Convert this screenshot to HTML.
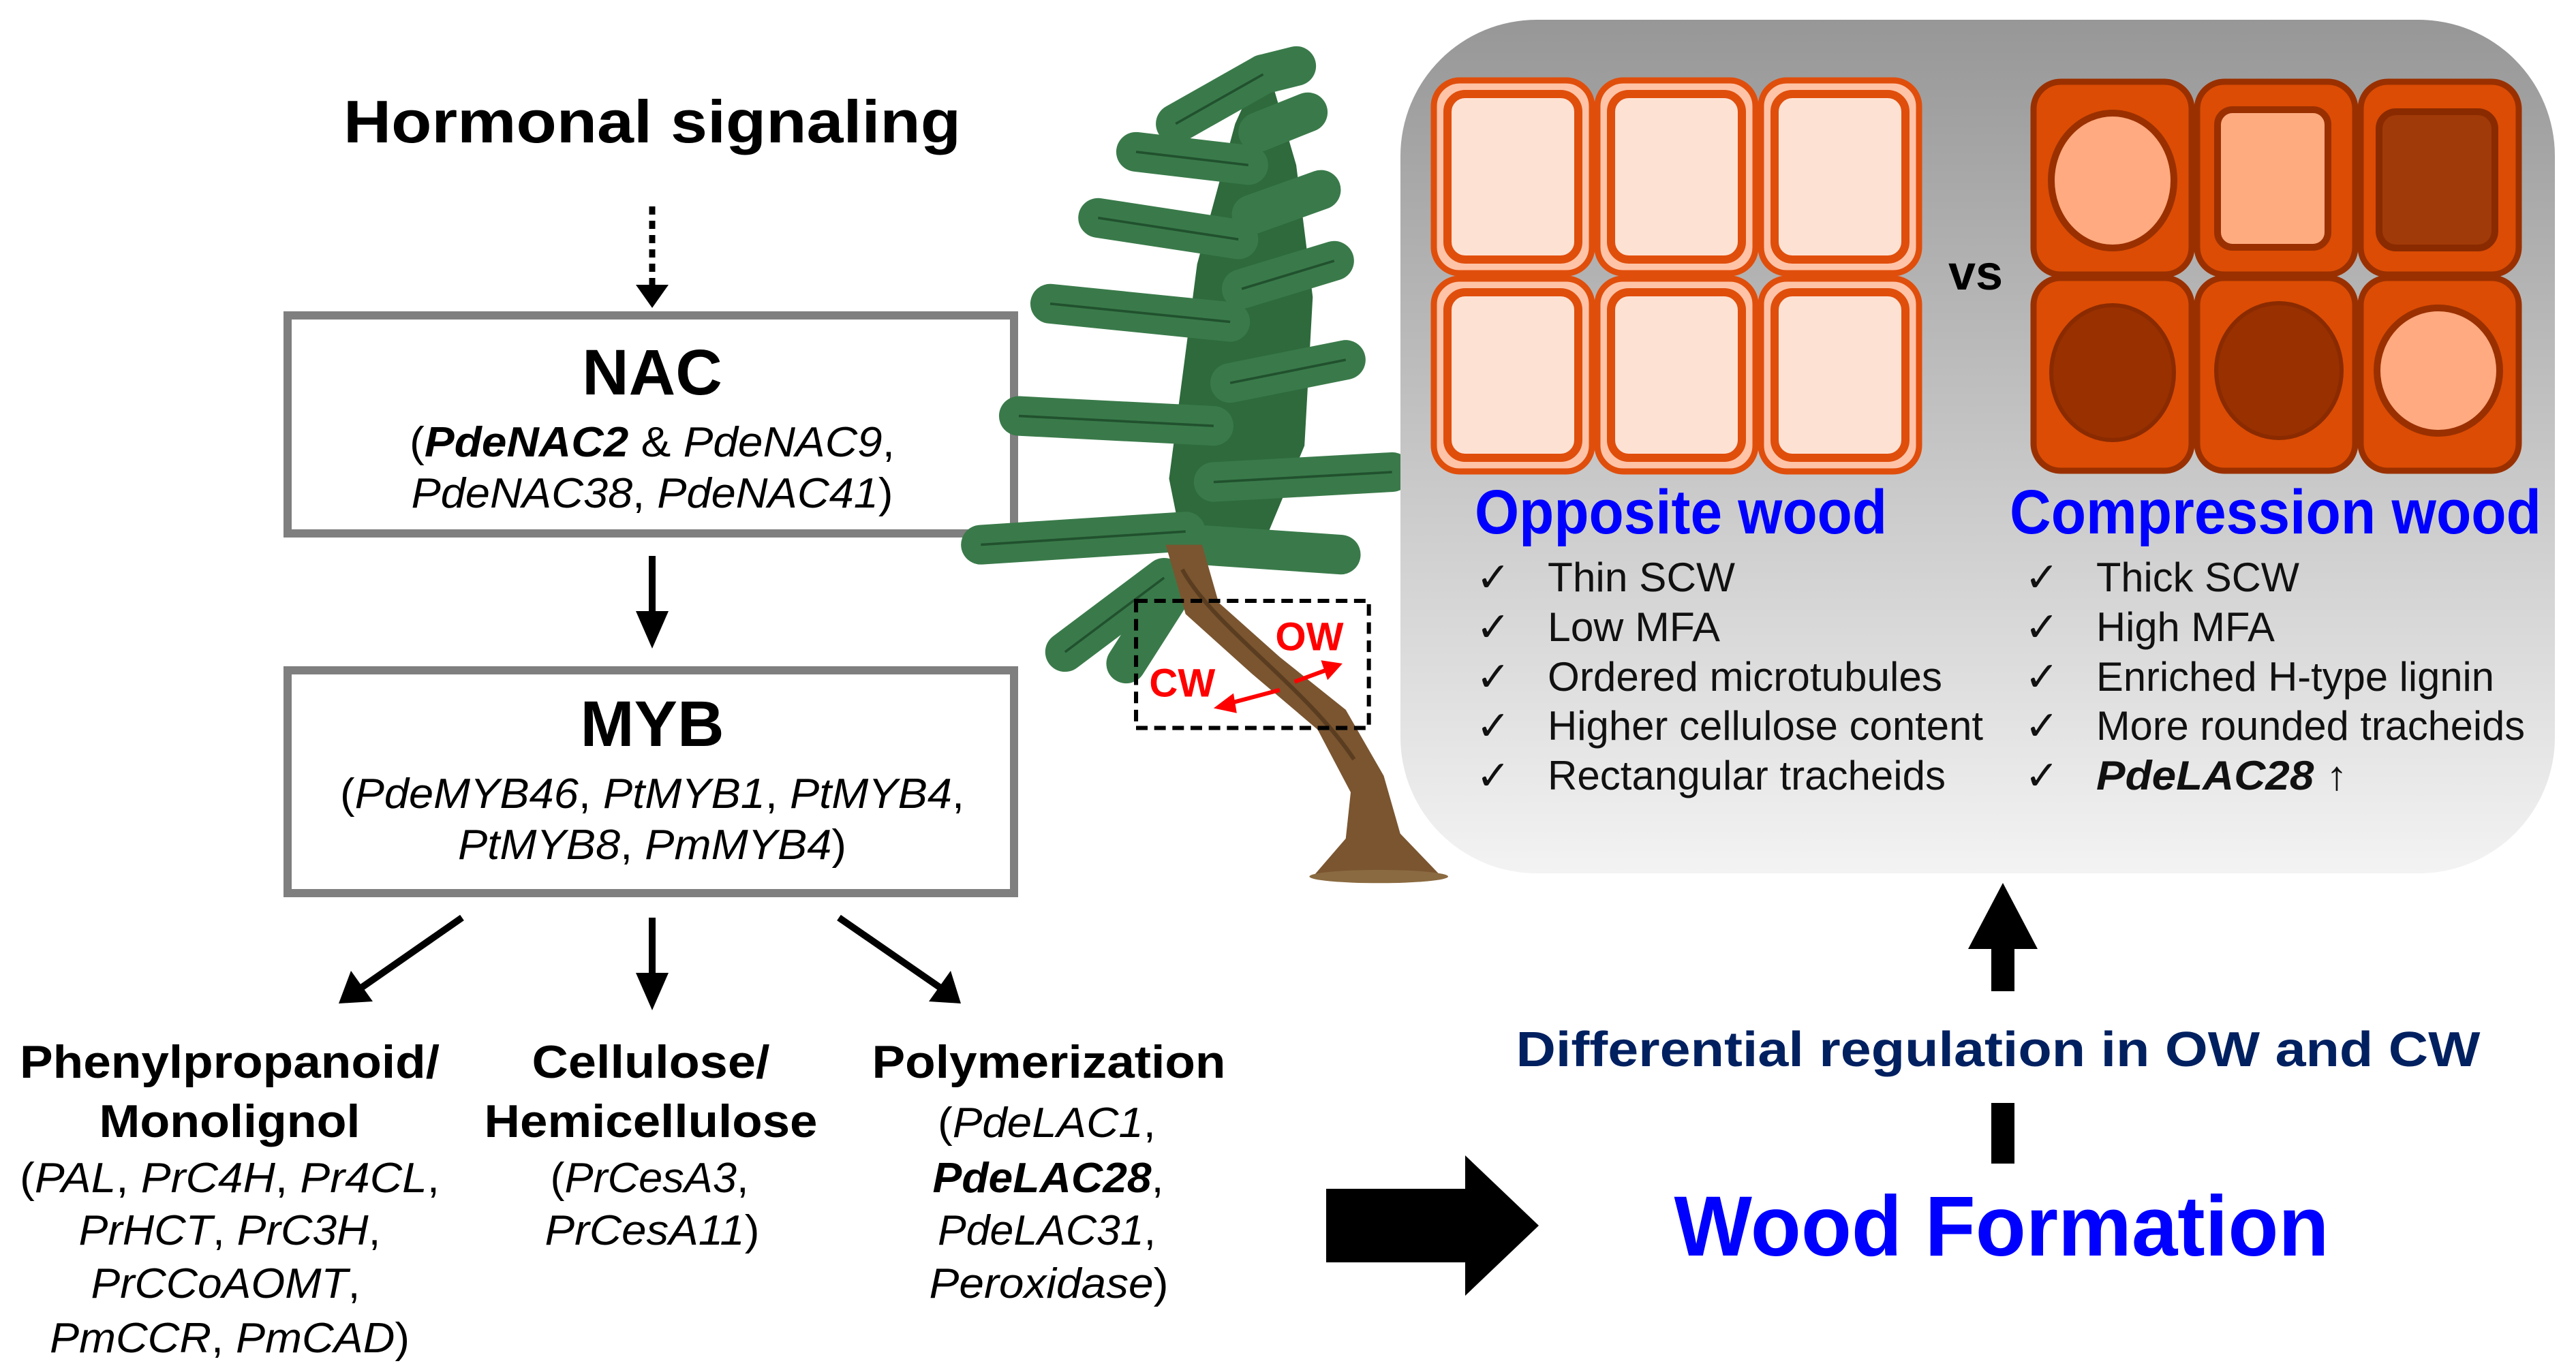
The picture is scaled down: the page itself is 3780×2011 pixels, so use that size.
<!DOCTYPE html>
<html><head><meta charset="utf-8"><style>html,body{margin:0;padding:0;background:#fff}svg{display:block}</style></head>
<body>
<svg width="3780" height="2011" viewBox="0 0 3780 2011" xmlns="http://www.w3.org/2000/svg" font-family="Liberation Sans, Arial, sans-serif">
<defs>
<linearGradient id="pg" x1="0" y1="0" x2="0" y2="1"><stop offset="0" stop-color="#979797"/><stop offset="1" stop-color="#f3f3f3"/></linearGradient>
</defs>
<rect width="3780" height="2011" fill="#fff"/>

<!-- Left flow -->
<text x="957" y="209" font-size="88" font-weight="bold" text-anchor="middle" textLength="906" lengthAdjust="spacingAndGlyphs">Hormonal signaling</text>
<line x1="957" y1="303" x2="957" y2="420" stroke="#000" stroke-width="9" stroke-dasharray="12 9"/>
<polygon points="933,418 981,418 957,452" fill="#000"/>

<rect x="422" y="463" width="1066" height="320" fill="#fff" stroke="#7f7f7f" stroke-width="12"/>
<text x="957" y="579" font-size="95" font-weight="bold" text-anchor="middle">NAC</text>
<text x="957" y="670" font-size="62" text-anchor="middle" textLength="712" lengthAdjust="spacingAndGlyphs">(<tspan font-style="italic" font-weight="bold">PdeNAC2</tspan> &amp; <tspan font-style="italic">PdeNAC9</tspan>,</text>
<text x="957" y="745" font-size="62" text-anchor="middle" textLength="707" lengthAdjust="spacingAndGlyphs"><tspan font-style="italic">PdeNAC38</tspan>, <tspan font-style="italic">PdeNAC41</tspan>)</text>

<line x1="957" y1="816" x2="957" y2="900" stroke="#000" stroke-width="10"/>
<polygon points="933,897 981,897 957,952" fill="#000"/>

<rect x="422" y="984" width="1066" height="327" fill="#fff" stroke="#7f7f7f" stroke-width="12"/>
<text x="957" y="1095" font-size="95" font-weight="bold" text-anchor="middle">MYB</text>
<text x="957" y="1186" font-size="62" text-anchor="middle" textLength="916" lengthAdjust="spacingAndGlyphs">(<tspan font-style="italic">PdeMYB46</tspan>, <tspan font-style="italic">PtMYB1</tspan>, <tspan font-style="italic">PtMYB4</tspan>,</text>
<text x="957" y="1261" font-size="62" text-anchor="middle" textLength="570" lengthAdjust="spacingAndGlyphs"><tspan font-style="italic">PtMYB8</tspan>, <tspan font-style="italic">PmMYB4</tspan>)</text>

<!-- three arrows -->
<line x1="678" y1="1347" x2="530" y2="1450" stroke="#000" stroke-width="10"/>
<polygon points="497,1473 515,1425 547,1470" fill="#000"/>
<line x1="957" y1="1347" x2="957" y2="1430" stroke="#000" stroke-width="10"/>
<polygon points="933,1428 981,1428 957,1483" fill="#000"/>
<line x1="1231" y1="1347" x2="1380" y2="1450" stroke="#000" stroke-width="10"/>
<polygon points="1410,1473 1363,1470 1395,1425" fill="#000"/>

<g font-size="68" font-weight="bold" text-anchor="middle">
<text x="337" y="1582" textLength="616" lengthAdjust="spacingAndGlyphs">Phenylpropanoid/</text>
<text x="337" y="1669" textLength="383" lengthAdjust="spacingAndGlyphs">Monolignol</text>
<text x="955" y="1582" textLength="349" lengthAdjust="spacingAndGlyphs">Cellulose/</text>
<text x="955" y="1669" textLength="489" lengthAdjust="spacingAndGlyphs">Hemicellulose</text>
<text x="1539" y="1582" textLength="519" lengthAdjust="spacingAndGlyphs">Polymerization</text>
</g>
<g font-size="62" text-anchor="middle">
<text x="337" y="1750" textLength="616" lengthAdjust="spacingAndGlyphs">(<tspan font-style="italic">PAL</tspan>, <tspan font-style="italic">PrC4H</tspan>, <tspan font-style="italic">Pr4CL</tspan>,</text>
<text x="337" y="1827" textLength="443" lengthAdjust="spacingAndGlyphs"><tspan font-style="italic">PrHCT</tspan>, <tspan font-style="italic">PrC3H</tspan>,</text>
<text x="331" y="1905" textLength="395" lengthAdjust="spacingAndGlyphs"><tspan font-style="italic">PrCCoAOMT</tspan>,</text>
<text x="337" y="1985" textLength="528" lengthAdjust="spacingAndGlyphs"><tspan font-style="italic">PmCCR</tspan>, <tspan font-style="italic">PmCAD</tspan>)</text>
<text x="953" y="1750" textLength="291" lengthAdjust="spacingAndGlyphs">(<tspan font-style="italic">PrCesA3</tspan>,</text>
<text x="957" y="1827" textLength="315" lengthAdjust="spacingAndGlyphs"><tspan font-style="italic">PrCesA11</tspan>)</text>
<text x="1536" y="1669" textLength="320" lengthAdjust="spacingAndGlyphs">(<tspan font-style="italic">PdeLAC1</tspan>,</text>
<text x="1538" y="1750" textLength="339" lengthAdjust="spacingAndGlyphs"><tspan font-style="italic" font-weight="bold">PdeLAC28</tspan>,</text>
<text x="1536" y="1827" textLength="320" lengthAdjust="spacingAndGlyphs"><tspan font-style="italic">PdeLAC31</tspan>,</text>
<text x="1539" y="1905" textLength="351" lengthAdjust="spacingAndGlyphs"><tspan font-style="italic">Peroxidase</tspan>)</text>
</g>

<!-- big arrow -->
<rect x="1946" y="1745" width="210" height="108" fill="#000"/>
<polygon points="2150,1696 2258,1799 2150,1902" fill="#000"/>

<text x="2937" y="1843" font-size="125" font-weight="bold" fill="#0000ff" text-anchor="middle" textLength="961" lengthAdjust="spacingAndGlyphs">Wood Formation</text>
<text x="2932" y="1565" font-size="72" font-weight="bold" fill="#002060" text-anchor="middle" textLength="1415" lengthAdjust="spacingAndGlyphs">Differential regulation in OW and CW</text>
<rect x="2922" y="1619" width="34" height="89" fill="#000"/>
<rect x="2922" y="1385" width="34" height="70" fill="#000"/>
<polygon points="2888,1393 2990,1393 2939,1296" fill="#000"/>

<!-- Tree -->
<g transform="scale(2.423)">
<polygon points="766,35 785,100 795,180 790,270 765,330 718,340 708,290 725,160 748,75" fill="#2e6a3c"/>
<g id="fr" stroke-linecap="round" fill="none">
<g stroke="#3a7a4a" stroke-width="24">
<line x1="765" y1="45" x2="712" y2="75"/>
<line x1="765" y1="45" x2="785" y2="40"/>
<line x1="762" y1="80" x2="792" y2="68"/>
<line x1="756" y1="100" x2="688" y2="92"/>
<line x1="758" y1="130" x2="800" y2="115"/>
<line x1="750" y1="145" x2="665" y2="132"/>
<line x1="752" y1="175" x2="808" y2="158"/>
<line x1="745" y1="195" x2="636" y2="184"/>
<line x1="745" y1="232" x2="815" y2="218"/>
<line x1="735" y1="258" x2="617" y2="252"/>
<line x1="735" y1="292" x2="843" y2="286"/>
<line x1="718" y1="322" x2="594" y2="330"/>
<line x1="725" y1="330" x2="812" y2="336"/>
<line x1="705" y1="350" x2="645" y2="395"/>
<line x1="712" y1="355" x2="682" y2="402"/>
</g>
</g>
<g stroke="#21512e" stroke-width="1.5" fill="none">
<line x1="756" y1="100" x2="688" y2="92"/><line x1="750" y1="145" x2="665" y2="132"/>
<line x1="745" y1="195" x2="636" y2="184"/><line x1="735" y1="258" x2="617" y2="252"/>
<line x1="718" y1="322" x2="594" y2="330"/><line x1="735" y1="292" x2="843" y2="286"/>
<line x1="745" y1="232" x2="815" y2="218"/><line x1="752" y1="175" x2="808" y2="158"/>
<line x1="765" y1="45" x2="712" y2="75"/><line x1="705" y1="350" x2="645" y2="395"/>
</g>
<polygon points="706,330 728,330 738,365 775,398 815,430 838,470 848,505 872,530 796,530 815,508 818,480 798,442 758,408 718,372" fill="#7a5530"/>
<path d="M716,345 C735,380 790,415 820,460" stroke="#5a3d20" stroke-width="2.5" fill="none"/>
<ellipse cx="835" cy="531" rx="42" ry="4" fill="#8a6a40"/>
<rect x="688" y="364" width="141" height="77" fill="none" stroke="#000" stroke-width="2.5" stroke-dasharray="7 4"/>
<text x="793" y="394" font-size="24" font-weight="bold" fill="#ff0000" text-anchor="middle">OW</text>
<text x="716" y="422" font-size="24" font-weight="bold" fill="#ff0000" text-anchor="middle">CW</text>
<line x1="775" y1="418" x2="745" y2="426" stroke="#ff0000" stroke-width="2.5"/>
<polygon points="735,429 747,420 749,432" fill="#ff0000"/>
<line x1="784" y1="413" x2="803" y2="406" stroke="#ff0000" stroke-width="2.5"/>
<polygon points="813,402 800,400 804,412" fill="#ff0000"/>
</g>

<!-- Panel -->
<rect x="2055" y="29" width="1694" height="1253" rx="200" fill="url(#pg)"/>

<!-- OW cells -->
<g stroke="#e04e0c">
<g id="owc">
<rect x="2104" y="118" width="232" height="283" rx="38" fill="#ffc4a8" stroke-width="9"/>
<rect x="2124" y="138" width="192" height="243" rx="26" fill="#fde2d4" stroke-width="12"/>
</g>
<use href="#owc" x="240"/><use href="#owc" x="480"/>
<use href="#owc" y="291"/><use href="#owc" x="240" y="291"/><use href="#owc" x="480" y="291"/>
</g>
<text x="2899" y="425" font-size="72" font-weight="bold" text-anchor="middle">vs</text>

<!-- CW cells -->
<g stroke="#9a3000">
<rect x="2984" y="120" width="232" height="283" rx="40" fill="#dc4c04" stroke-width="9"/>
<rect x="3224" y="120" width="232" height="283" rx="40" fill="#dc4c04" stroke-width="9"/>
<rect x="3464" y="120" width="232" height="283" rx="40" fill="#dc4c04" stroke-width="9"/>
<rect x="2984" y="408" width="232" height="283" rx="40" fill="#dc4c04" stroke-width="9"/>
<rect x="3224" y="408" width="232" height="283" rx="40" fill="#dc4c04" stroke-width="9"/>
<rect x="3464" y="408" width="232" height="283" rx="40" fill="#dc4c04" stroke-width="9"/>
<ellipse cx="3100" cy="265" rx="90" ry="99" fill="#ffaa80" stroke-width="10"/>
<rect x="3254" y="161" width="162" height="202" rx="22" fill="#ffab80" stroke-width="10"/>
<rect x="3491" y="164" width="170" height="200" rx="25" fill="#a03a08" stroke="#8a2a00" stroke-width="10"/>
<ellipse cx="3100" cy="547" rx="90" ry="99" fill="#993000" stroke="#8a2a00" stroke-width="6"/>
<ellipse cx="3344" cy="544" rx="92" ry="99" fill="#993000" stroke="#8a2a00" stroke-width="6"/>
<ellipse cx="3578" cy="544" rx="90" ry="92" fill="#ffaa80" stroke-width="10"/>
</g>

<text x="2164" y="783" font-size="92" font-weight="bold" fill="#0000ff" textLength="605" lengthAdjust="spacingAndGlyphs">Opposite wood</text>
<text x="2949" y="783" font-size="92" font-weight="bold" fill="#0000ff" textLength="780" lengthAdjust="spacingAndGlyphs">Compression wood</text>

<g font-size="60" fill="#111">
<g font-family="DejaVu Sans, sans-serif">
<text x="2166" y="868">✓</text><text x="2166" y="941">✓</text><text x="2166" y="1014">✓</text><text x="2166" y="1086">✓</text><text x="2166" y="1159">✓</text>
<text x="2971" y="868">✓</text><text x="2971" y="941">✓</text><text x="2971" y="1014">✓</text><text x="2971" y="1086">✓</text><text x="2971" y="1159">✓</text>
</g>
<text x="2271" y="868" textLength="275" lengthAdjust="spacingAndGlyphs">Thin SCW</text>
<text x="2271" y="941" textLength="253" lengthAdjust="spacingAndGlyphs">Low MFA</text>
<text x="2271" y="1014" textLength="579" lengthAdjust="spacingAndGlyphs">Ordered microtubules</text>
<text x="2271" y="1086" textLength="639" lengthAdjust="spacingAndGlyphs">Higher cellulose content</text>
<text x="2271" y="1159" textLength="584" lengthAdjust="spacingAndGlyphs">Rectangular tracheids</text>
<text x="3076" y="868" textLength="298" lengthAdjust="spacingAndGlyphs">Thick SCW</text>
<text x="3076" y="941" textLength="262" lengthAdjust="spacingAndGlyphs">High MFA</text>
<text x="3076" y="1014" textLength="584" lengthAdjust="spacingAndGlyphs">Enriched H-type lignin</text>
<text x="3076" y="1086" textLength="629" lengthAdjust="spacingAndGlyphs">More rounded tracheids</text>
<text x="3076" y="1159" textLength="369" lengthAdjust="spacingAndGlyphs"><tspan font-weight="bold" font-style="italic">PdeLAC28</tspan> ↑</text>
</g>
</svg>
</body></html>
